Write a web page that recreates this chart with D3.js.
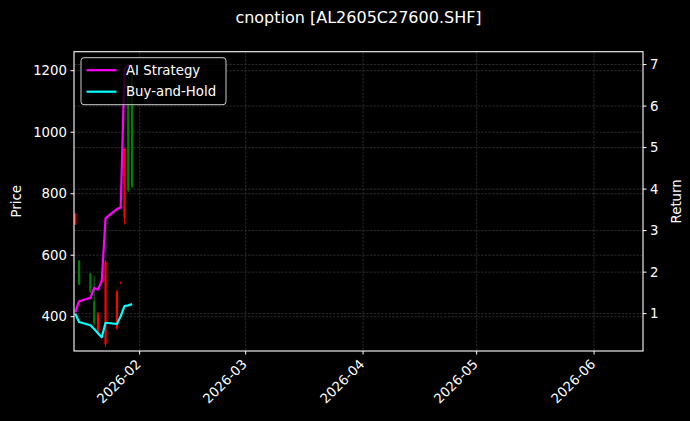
<!DOCTYPE html>
<html>
<head>
<meta charset="utf-8">
<script src="https://cdn.jsdelivr.net/npm/d3@7"></script>
<style>
	html, body { margin: 0; padding: 0; background: #000; }
	#outer { width: 690px; height: 421px; }
</style>
</head>
<body>
<div id="outer"></div>
<script>
////////// Data //////////
const tradeDates = ['2026-01-15', '2026-01-16', '2026-01-19', '2026-01-20', '2026-01-21', '2026-01-22',
	'2026-01-23', '2026-01-26', '2026-01-27', '2026-01-28', '2026-01-29', '2026-01-30'];
const openPrices  = [735, 505, 480, 380, 410, 515, 578, 482, 512, 945, 810, 823];
const highPrices  = [737, 584, 542, 532, 416, 520, 584, 487, 514, 948, 1200, 1217];
const lowPrices   = [698, 503, 477, 373, 340, 510, 302, 357, 507, 700, 806, 818];
const closePrices = [700, 582, 540, 450, 345, 512, 310, 362, 509, 722, 1150, 1190];
const aiStrategyReturn = [1.03, 1.30, 1.38, 1.62, 1.58, 1.80, 3.30, 3.52, 3.56, 6.90, 6.98, 6.95];
const buyHoldReturn    = [1.00, 0.80, 0.72, 0.63, 0.53, 0.43, 0.78, 0.75, 0.94, 1.18, 1.20, 1.23];
const priceTicks = [400, 600, 800, 1000, 1200];
const returnTicks = [1, 2, 3, 4, 5, 6, 7];
const monthTicks = ['2026-02-01', '2026-03-01', '2026-04-01', '2026-05-01', '2026-06-01'];
const seriesNames = ['AI Strategy', 'Buy-and-Hold'];
const seriesColors = ['#ff00ff', '#00ffff'];

function drawOptionChart () {
	const widget = {};

	////////// Hard Coded Defs //////////
	const parseDay = d3.utcParse('%Y-%m-%d');
	const formatMonth = d3.utcFormat('%Y-%m');
	const font = 'DejaVu Sans, sans-serif';

	////////////////////////////////////////////////////////////////
		// Setup Definitions
	////////////////////////////////////////////////////////////////
	const setupDefinitions = () => {
		const data = {};
		data.jqWidth = 690;
		data.jqHeight = 421;
		data.margin = {top: 51.7, left: 74, right: 47, bottom: 70};
		data.graphicWidth = data.jqWidth - data.margin.left - data.margin.right;
		data.graphicHeight = data.jqHeight - data.margin.top - data.margin.bottom;

		data.candles = tradeDates.map((d, i) => ({
			date: parseDay(d),
			open: openPrices[i],
			high: highPrices[i],
			low: lowPrices[i],
			close: closePrices[i]
		}));
		data.series = seriesNames.map((name, s) => ({
			name,
			color: seriesColors[s],
			values: tradeDates.map((d, i) => ({date: parseDay(d), value: (s === 0 ? aiStrategyReturn : buyHoldReturn)[i]}))
		}));

		data.x = d3.scaleUtc()
			.domain([new Date(Date.UTC(2026, 0, 14, 16)), new Date(Date.UTC(2026, 5, 13, 22))])
			.range([0, data.graphicWidth]);
		data.yPrice = d3.scaleLinear().domain([288.5, 1261.8]).range([data.graphicHeight, 0]);
		data.yReturn = d3.scaleLinear().domain([0.1, 7.31]).range([data.graphicHeight, 0]);
		return data;
	};

	////////////////////////////////////////////////////////////////
		// RenderWidget Func
	////////////////////////////////////////////////////////////////
	const renderWidget = data => {
		const svg = widget.svg
			.attr('width', data.jqWidth)
			.attr('height', data.jqHeight)
			.style('background-color', '#000')
			.style('font-family', font);
		svg.selectAll('*').remove();

		const W = data.graphicWidth, H = data.graphicHeight;
		const g = svg.append('g').attr('transform', `translate(${data.margin.left},${data.margin.top})`);

		// grid (price axis + months)
		const gridDash = '2.5,1.2';
		const gridColor = '#474747';
		const gridGroup = g.append('g').attr('class', 'grid');
		gridGroup.selectAll('.gx').data(monthTicks).join('line')
			.attr('x1', d => data.x(parseDay(d))).attr('x2', d => data.x(parseDay(d)))
			.attr('y1', 0).attr('y2', H)
			.attr('stroke', gridColor).attr('stroke-width', 0.6).attr('stroke-dasharray', gridDash);
		gridGroup.selectAll('.gy').data(priceTicks).join('line')
			.attr('x1', 0).attr('x2', W)
			.attr('y1', d => data.yPrice(d)).attr('y2', d => data.yPrice(d))
			.attr('stroke', gridColor).attr('stroke-width', 0.6).attr('stroke-dasharray', gridDash);

		// candles
		const bodyWidth = 2.2;
		const candleGroup = g.append('g').attr('class', 'candles');
		const candle = candleGroup.selectAll('g').data(data.candles).join('g')
			.attr('transform', d => `translate(${data.x(d.date)},0)`);
		candle.append('line')
			.attr('y1', d => data.yPrice(d.high))
			.attr('y2', d => data.yPrice(d.low))
			.attr('stroke', d => d.close >= d.open ? 'green' : 'red')
			.attr('stroke-width', 1);
		candle.append('rect')
			.attr('x', -bodyWidth / 2)
			.attr('width', bodyWidth)
			.attr('y', d => data.yPrice(Math.max(d.open, d.close)))
			.attr('height', d => Math.max(1, Math.abs(data.yPrice(d.open) - data.yPrice(d.close))))
			.attr('fill', d => d.close >= d.open ? 'green' : 'red');

		// grid (return axis)
		g.append('g').selectAll('line').data(returnTicks).join('line')
			.attr('x1', 0).attr('x2', W)
			.attr('y1', d => data.yReturn(d)).attr('y2', d => data.yReturn(d))
			.attr('stroke', gridColor).attr('stroke-width', 0.6).attr('stroke-dasharray', gridDash);

		// return lines
		const line = d3.line().x(d => data.x(d.date)).y(d => data.yReturn(d.value));
		g.append('g').selectAll('path').data(data.series).join('path')
			.attr('d', d => line(d.values))
			.attr('fill', 'none')
			.attr('stroke', d => d.color)
			.attr('stroke-width', 2.2)
			.attr('stroke-linejoin', 'round');

		// frame
		g.append('rect')
			.attr('width', W).attr('height', H)
			.attr('fill', 'none').attr('stroke', '#fff').attr('stroke-width', 1.1);

		// ********************************************* AXES ******************************************************* //
		const tickSize = 13.3;
		const xAxis = g.append('g').attr('transform', `translate(0,${H})`);
		const xTick = xAxis.selectAll('g').data(monthTicks).join('g')
			.attr('transform', d => `translate(${data.x(parseDay(d))},0)`);
		xTick.append('line').attr('y2', 3.5).attr('stroke', '#fff').attr('stroke-width', 1);
		xTick.append('text')
			.attr('transform', 'translate(-5,7) rotate(-45)')
			.attr('text-anchor', 'end')
			.attr('dy', '0.75em')
			.attr('fill', '#fff')
			.style('font-size', tickSize + 'px')
			.text(d => formatMonth(parseDay(d)));

		const yLeft = g.append('g');
		const yLeftTick = yLeft.selectAll('g').data(priceTicks).join('g')
			.attr('transform', d => `translate(0,${data.yPrice(d)})`);
		yLeftTick.append('line').attr('x2', -3.5).attr('stroke', '#fff');
		yLeftTick.append('text')
			.attr('x', -7).attr('dy', '0.35em')
			.attr('text-anchor', 'end').attr('fill', '#fff')
			.style('font-size', tickSize + 'px')
			.text(d => d);

		const yRight = g.append('g').attr('transform', `translate(${W},0)`);
		const yRightTick = yRight.selectAll('g').data(returnTicks).join('g')
			.attr('transform', d => `translate(0,${data.yReturn(d)})`);
		yRightTick.append('line').attr('x2', 3.5).attr('stroke', '#fff');
		yRightTick.append('text')
			.attr('x', 7).attr('dy', '0.35em')
			.attr('fill', '#fff')
			.style('font-size', tickSize + 'px')
			.text(d => d);

		// labels
		svg.append('text')
			.attr('transform', `translate(21,${data.margin.top + H / 2}) rotate(-90)`)
			.attr('text-anchor', 'middle').attr('fill', '#fff')
			.style('font-size', tickSize + 'px')
			.text('Price');
		svg.append('text')
			.attr('transform', `translate(${data.margin.left + W + 38},${data.margin.top + H / 2}) rotate(-90)`)
			.attr('text-anchor', 'middle').attr('fill', '#fff')
			.style('font-size', tickSize + 'px')
			.text('Return');
		svg.append('text')
			.attr('x', data.margin.left + W / 2).attr('y', 23)
			.attr('text-anchor', 'middle').attr('fill', '#fff')
			.style('font-size', '16px')
			.text('cnoption [AL2605C27600.SHF]');

		// ********************************************* LEGEND ******************************************************* //
		const legend = g.append('g').attr('transform', 'translate(7,6)');
		legend.append('rect')
			.attr('width', 145).attr('height', 47).attr('rx', 3)
			.attr('fill', '#000').attr('fill-opacity', 0.8)
			.attr('stroke', '#ccc').attr('stroke-width', 1);
		const item = legend.selectAll('.item').data(data.series).join('g')
			.attr('transform', (d, i) => `translate(0,${12.5 + i * 21.5})`);
		item.append('line')
			.attr('x1', 5.5).attr('x2', 35.5)
			.attr('stroke', d => d.color).attr('stroke-width', 2.2);
		item.append('text')
			.attr('x', 45).attr('dy', '0.35em')
			.attr('fill', '#fff')
			.style('font-size', tickSize + 'px')
			.text(d => d.name);
	};

	function render () {
		renderWidget(setupDefinitions());
	}

	////////////////////////////////////////////////////////////////
		// Initialize Widget
	////////////////////////////////////////////////////////////////
	widget.outerDiv = d3.select('#outer').style('overflow', 'hidden');
	widget.svg = widget.outerDiv.append('svg').style('display', 'block');
	render();
}

drawOptionChart();
</script>
</body>
</html>
